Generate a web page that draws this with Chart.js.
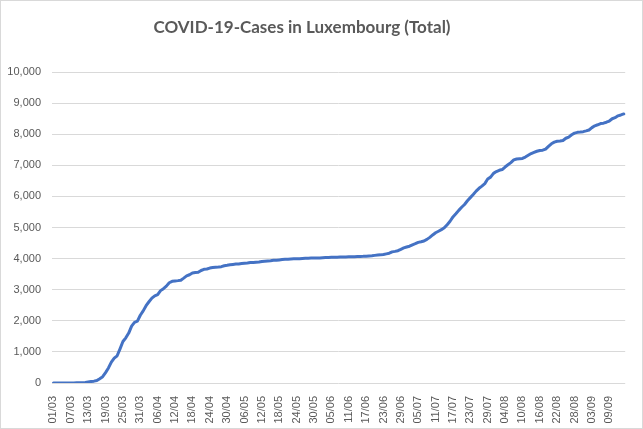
<!DOCTYPE html>
<html>
<head>
<meta charset="utf-8">
<script src="https://cdn.jsdelivr.net/npm/chart.js@4/dist/chart.umd.min.js"></script>
<style>
  html, body { margin: 0; padding: 0; background: #fff; }
  #frame { width: 643px; height: 429px; box-sizing: border-box; border: 1px solid #d9d9d9; }
  canvas { display: block; }
</style>
</head>
<body>
<div id="frame"><canvas id="chart" width="641" height="427"></canvas></div>
<script>
const chartTitle = 'COVID-19-Cases in Luxembourg (Total)';

const days = [
  '01/03','02/03','03/03','04/03','05/03','06/03','07/03','08/03','09/03','10/03','11/03','12/03','13/03','14/03','15/03','16/03',
  '17/03','18/03','19/03','20/03','21/03','22/03','23/03','24/03','25/03','26/03','27/03','28/03','29/03','30/03','31/03',
  '01/04','02/04','03/04','04/04','05/04','06/04','07/04','08/04','09/04','10/04','11/04','12/04','13/04','14/04','15/04',
  '16/04','17/04','18/04','19/04','20/04','21/04','22/04','23/04','24/04','25/04','26/04','27/04','28/04','29/04','30/04',
  '01/05','02/05','03/05','04/05','05/05','06/05','07/05','08/05','09/05','10/05','11/05','12/05','13/05','14/05','15/05','16/05',
  '17/05','18/05','19/05','20/05','21/05','22/05','23/05','24/05','25/05','26/05','27/05','28/05','29/05','30/05','31/05',
  '01/06','02/06','03/06','04/06','05/06','06/06','07/06','08/06','09/06','10/06','11/06','12/06','13/06','14/06','15/06',
  '16/06','17/06','18/06','19/06','20/06','21/06','22/06','23/06','24/06','25/06','26/06','27/06','28/06','29/06','30/06',
  '01/07','02/07','03/07','04/07','05/07','06/07','07/07','08/07','09/07','10/07','11/07','12/07','13/07','14/07','15/07','16/07',
  '17/07','18/07','19/07','20/07','21/07','22/07','23/07','24/07','25/07','26/07','27/07','28/07','29/07','30/07','31/07',
  '01/08','02/08','03/08','04/08','05/08','06/08','07/08','08/08','09/08','10/08','11/08','12/08','13/08','14/08','15/08','16/08',
  '17/08','18/08','19/08','20/08','21/08','22/08','23/08','24/08','25/08','26/08','27/08','28/08','29/08','30/08','31/08',
  '01/09','02/09','03/09','04/09','05/09','06/09','07/09','08/09','09/09','10/09','11/09','12/09','13/09','14/09'
];

// cumulative cases, per month
const march = [1,1,1,2,2,3,4,4,5,5,7,19,34,51,59,81,140,203,335,484,670,798,875,1099,1333,1453,1605,1831,1950,1988,2178];
const april = [2319,2487,2612,2729,2804,2843,2970,3034,3115,3223,3270,3281,3292,3307,3373,3444,3480,3537,3550,3558,
  3618,3654,3665,3695,3711,3723,3729,3741,3769,3784];
const may = [3802,3812,3824,3828,3840,3851,3859,3871,3877,3886,3888,3904,3915,3923,3930,3945,3947,3958,3971,3980,
  3981,3990,3993,3995,3995,4001,4008,4012,4016,4018,4019];
const june = [4020,4027,4032,4035,4040,4041,4046,4049,4052,4054,4056,4059,4063,4066,4069,4072,4078,4085,4093,4104,
  4113,4120,4133,4153,4173,4216,4232,4255,4299,4345];
const july = [4374,4399,4444,4480,4522,4542,4567,4618,4683,4760,4830,4880,4930,4990,5090,5200,5340,5440,5550,5650,
  5740,5860,5960,6060,6170,6260,6330,6410,6560,6620,6740];
const august = [6799,6839,6864,6945,7017,7085,7172,7203,7213,7222,7264,7321,7377,7415,7452,7477,7486,7521,7611,7692,
  7744,7774,7781,7798,7870,7908,7981,8034,8059,8069,8082];
const september = [8106,8136,8212,8269,8303,8341,8355,8385,8424,8497,8531,8590,8619,8651];

const cases = [].concat(march, april, may, june, july, august, september);

const labelEvery = 6;
const grey = '#595959';

const titlePlugin = {
  id: 'excelTitle',
  afterDraw(chart) {
    const ctx = chart.ctx;
    ctx.save();
    ctx.font = 'bold 17px Lato';
    ctx.fillStyle = grey;
    ctx.textAlign = 'center';
    ctx.textBaseline = 'middle';
    ctx.fillText(chartTitle, 301, 27);
    ctx.restore();
  }
};

window.onload = function () {
  const ctx = document.getElementById('chart').getContext('2d');
  new Chart(ctx, {
    type: 'line',
    data: {
      labels: days,
      datasets: [{
        label: 'Total',
        data: cases,
        borderColor: '#4472C4',
        borderWidth: 3,
        pointRadius: 0,
        tension: 0,
        borderJoinStyle: 'round',
        borderCapStyle: 'round'
      }]
    },
    options: {
      responsive: false,
      animation: false,
      devicePixelRatio: 1,
      layout: { padding: { top: 71, right: 14, left: 0, bottom: 0 } },
      plugins: {
        legend: { display: false },
        tooltip: { enabled: false }
      },
      scales: {
        x: {
          offset: true,
          grid: { display: false },
          border: { display: false },
          ticks: {
            autoSkip: false,
            minRotation: 90,
            maxRotation: 90,
            padding: 5,
            color: grey,
            font: { family: 'Liberation Sans', size: 11 },
            callback: (v, i) => (i % labelEvery === 0 ? days[i] : '')
          },
          afterFit(scale) { scale.height = 45; }
        },
        y: {
          min: 0,
          max: 10000,
          grid: { color: '#d9d9d9', lineWidth: 1, drawTicks: false },
          border: { display: false },
          ticks: {
            stepSize: 1000,
            padding: 11,
            color: grey,
            font: { family: 'Liberation Sans', size: 11 },
            callback: v => v.toLocaleString('en-US')
          },
          afterFit(scale) { scale.width = 51; }
        }
      }
    },
    plugins: [titlePlugin]
  });
};
</script>
</body>
</html>
